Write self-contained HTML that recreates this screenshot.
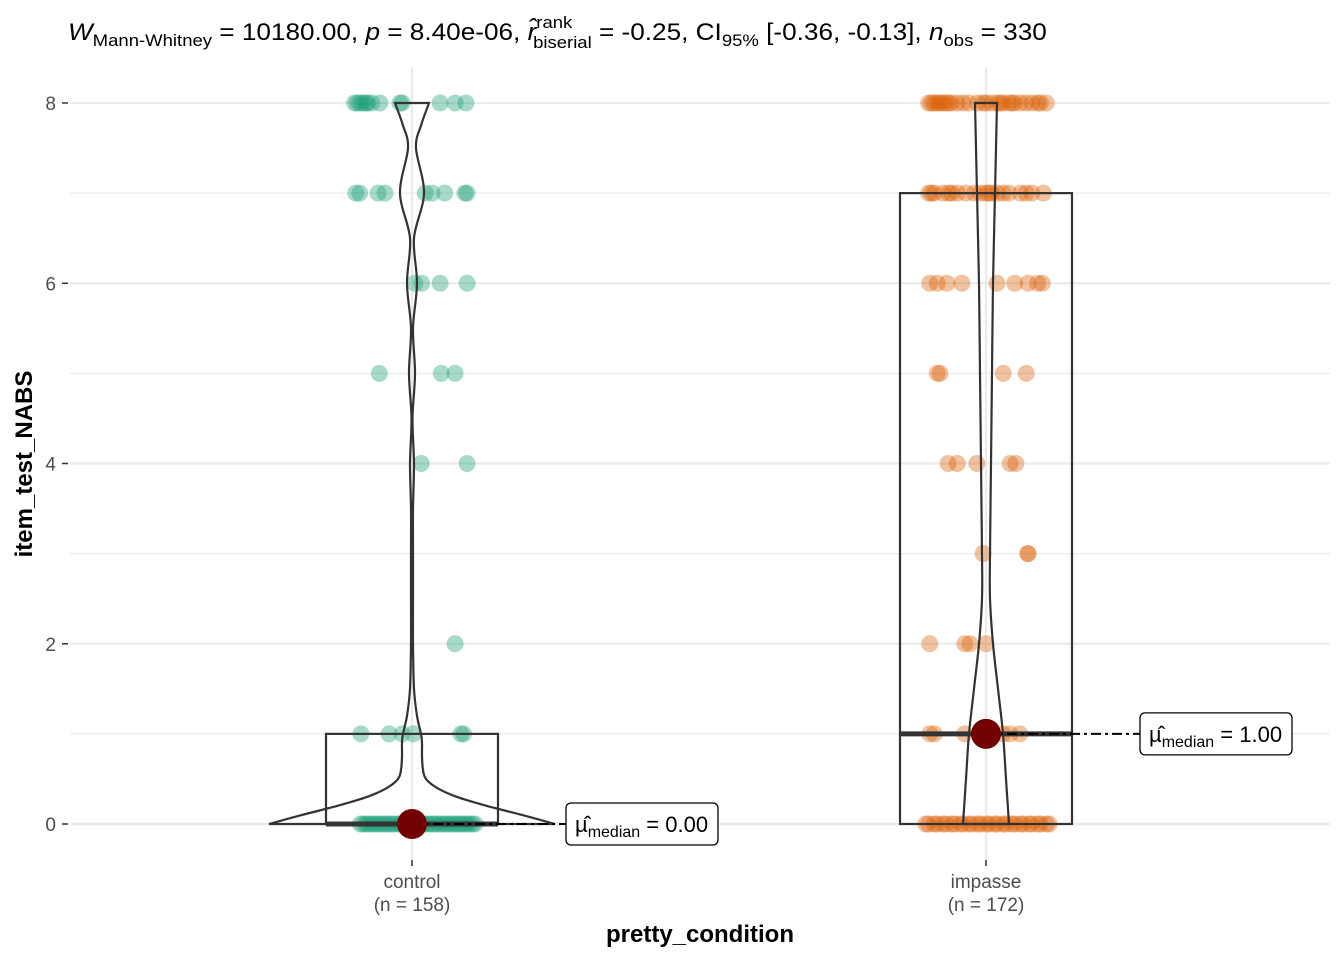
<!DOCTYPE html>
<html><head><meta charset="utf-8"><style>
body{margin:0;background:#fff;}
svg text{font-family:"Liberation Sans",Arial,sans-serif;}
</style></head><body>
<svg id="chart" width="1344" height="960" xmlns="http://www.w3.org/2000/svg">
<text transform="translate(68,40) scale(1.09,1)" x="0" y="0" font-size="24" fill="#000"><tspan font-style="italic">W</tspan><tspan font-size="17" dy="6">Mann-Whitney</tspan><tspan dy="-6"> = 10180.00, </tspan><tspan font-style="italic">p</tspan><tspan> = 8.40e-06, </tspan><tspan font-style="italic">r̂</tspan><tspan font-size="17" dy="-12">rank</tspan><tspan font-size="17" dx="-36" dy="20">biserial</tspan><tspan dy="-8"> = -0.25, CI</tspan><tspan font-size="17" dy="6">95%</tspan><tspan dy="-6"> [-0.36, -0.13], </tspan><tspan font-style="italic">n</tspan><tspan font-size="17" dy="6">obs</tspan><tspan dy="-6"> = 330</tspan></text>
<g id="grid"></g><g id="marks"></g><g id="axes"></g>
<text x="700" y="942" font-size="24" font-weight="bold" text-anchor="middle">pretty_condition</text>
<text transform="translate(32,464) rotate(-90)" font-size="24" font-weight="bold" text-anchor="middle">item_test_NABS</text>
</svg>
<script>
const categories=["control","impasse"];
const counts=[158,172];
const medians=[0,1];
const q1=[0,0], q3=[1,7];
// points: jitter offsets (category units) per value
const controlPts={8:[-0.1,-0.095,-0.09,-0.085,-0.08,-0.077,-0.07,-0.056,-0.021,-0.017,0.049,0.075,0.094],7:[-0.098,-0.091,-0.059,-0.047,0.023,0.035,0.057,0.092,0.096],6:[0.005,0.017,0.049,0.096],5:[-0.057,0.051,0.075],4:[0.016,0.096],2:[0.075],1:[-0.089,-0.04,-0.017,0.002,0.085,0.09],0:[-0.09,-0.085,-0.08,-0.075,-0.07,-0.065,-0.06,-0.055,-0.05,-0.045,-0.04,-0.035,-0.03,-0.025,-0.02,-0.015,-0.01,0,0.01,0.015,0.02,0.025,0.03,0.035,0.04,0.045,0.05,0.055,0.06,0.065,0.07,0.075,0.08,0.085,0.09,0.095,0.1,0.105,0.11]};
const impassePts={8:[-0.1,-0.095,-0.09,-0.085,-0.08,-0.075,-0.07,-0.065,-0.06,-0.05,-0.04,-0.03,-0.015,-0.005,0,0.01,0.02,0.025,0.03,0.04,0.045,0.05,0.06,0.07,0.08,0.09,0.095,0.105],7:[-0.1,-0.095,-0.09,-0.075,-0.065,-0.06,-0.05,-0.035,-0.02,-0.01,0,0.005,0.01,0.02,0.03,0.04,0.06,0.07,0.08,0.1],6:[-0.098,-0.085,-0.068,-0.042,0.019,0.05,0.073,0.09,0.098],5:[-0.085,-0.08,0.03,0.07],4:[-0.066,-0.05,-0.016,0.042,0.052],3:[-0.005,0.073,0.073],2:[-0.098,-0.037,-0.028,0],1:[-0.098,-0.09,-0.037,0.007,0.03,0.042,0.059],0:[-0.105,-0.1,-0.09,-0.085,-0.075,-0.07,-0.06,-0.055,-0.045,-0.04,-0.03,-0.025,-0.015,-0.01,0,0.005,0.015,0.02,0.03,0.035,0.045,0.05,0.06,0.065,0.075,0.08,0.09,0.095,0.105,0.11]};
const violinY=[[0,0.1,0.2,0.3,0.4,0.5,0.6,0.75,0.9,1,1.2,1.5,2,2.5,3,3.5,4,4.5,5,5.5,6,6.5,7,7.5,7.75,8],[0,0.5,1,1.5,2,2.5,3,4,5,6,7,8]];
const violinW=[[143,110,75,45,25,14,11,10,10,9,5,2,1,1,1,1,2,0.5,3,1,5,2,12,4,9,17],[23,20,17,12,7,4,4,5,6,7,9,11]];
const yTicks=[0,2,4,6,8];
const NS="http://www.w3.org/2000/svg";
const X=c=>412+c*574, Y=v=>824-v*90.125;
function mk(tag,attrs,parent,txt){const e=document.createElementNS(NS,tag);for(const k in attrs)e.setAttribute(k,attrs[k]);if(txt!==undefined)e.textContent=txt;parent.appendChild(e);return e;}
const grid=document.getElementById('grid'),marks=document.getElementById('marks'),axes=document.getElementById('axes');
for(let v=0;v<=8;v++){const l=mk('line',{x1:70,x2:1330,y1:Y(v),y2:Y(v),stroke:'#ebebeb','stroke-width':v%2?1.2:2.2},grid);

}
categories.forEach((c,i)=>{const l=mk('line',{x1:X(i),x2:X(i),y1:68,y2:860,stroke:'#ebebeb','stroke-width':2.2},grid);

});
yTicks.forEach(v=>{const t=mk('text',{x:56,y:Y(v)+7,'font-size':19,'text-anchor':'end',fill:'#4d4d4d'},axes,String(v));


const tk=mk('line',{x1:62,x2:68,y1:Y(v),y2:Y(v),stroke:'#333','stroke-width':1.5},axes);

});
categories.forEach((c,i)=>{const t=mk('text',{x:X(i),y:888,'font-size':19,'text-anchor':'middle',fill:'#4d4d4d'},axes,c);


const t2=mk('text',{x:X(i),y:911,'font-size':19,'text-anchor':'middle',fill:'#4d4d4d'},axes,'(n = '+counts[i]+')');


const tk=mk('line',{x1:X(i),x2:X(i),y1:860,y2:866,stroke:'#333','stroke-width':1.5},axes);

});
const colors=['#1b9e77','#d95f02'];
[controlPts,impassePts].forEach((pts,i)=>{for(const v in pts){pts[v].forEach(o=>{const p=mk('circle',{cx:X(i+o),cy:Y(+v),r:8.5,fill:colors[i],'fill-opacity':0.38},marks);

});}});
function smooth(pts){let d='M'+pts[0][0]+','+pts[0][1];for(let k=0;k<pts.length-1;k++){const p0=pts[Math.max(0,k-1)],p1=pts[k],p2=pts[k+1],p3=pts[Math.min(pts.length-1,k+2)];
d+=' C'+(p1[0]+(p2[0]-p0[0])/6)+','+(p1[1]+(p2[1]-p0[1])/6)+' '+(p2[0]-(p3[0]-p1[0])/6)+','+(p2[1]-(p3[1]-p1[1])/6)+' '+p2[0]+','+p2[1];}return d;}
categories.forEach((c,i)=>{const x0=X(i)-86,x1=X(i)+86;
const b=mk('rect',{x:x0,y:Y(q3[i]),width:x1-x0,height:Y(q1[i])-Y(q3[i]),fill:'none',stroke:'#333','stroke-width':2.2},marks);


const m=mk('line',{x1:x0,x2:x1,y1:Y(medians[i]),y2:Y(medians[i]),stroke:'#333','stroke-width':5},marks);


const right=violinY[i].map((v,k)=>[X(i)+violinW[i][k],Y(v)]);
const left=violinY[i].map((v,k)=>[X(i)-violinW[i][k],Y(v)]).reverse();
const d=smooth(right)+' L'+left[0][0]+','+left[0][1]+' '+smooth(left).slice(1).replace(/^[^C]*/,'')+' Z';
const vp=mk('path',{d:d,fill:'none',stroke:'#333','stroke-width':2.2},marks);

});
categories.forEach((c,i)=>{const cy=Y(medians[i]);const lx=X(i)+154;
const dl=mk('line',{x1:X(i),x2:lx,y1:cy,y2:cy,stroke:'#000','stroke-width':2,'stroke-dasharray':'10,4,3,4'},marks);


const dot=mk('circle',{cx:X(i),cy:cy,r:15,fill:'#730000'},marks);


const lb=mk('rect',{x:lx,y:cy-21,width:152,height:42,rx:5,fill:'#fff',stroke:'#000','stroke-width':1.3},marks);


const t=mk('text',{x:lx+9,y:cy+8,'font-size':22},marks);


t.innerHTML='µ̂<tspan font-size="16" dy="5">median</tspan><tspan dy="-5"> = '+medians[i].toFixed(2)+'</tspan>';});
</script>
</body></html>
